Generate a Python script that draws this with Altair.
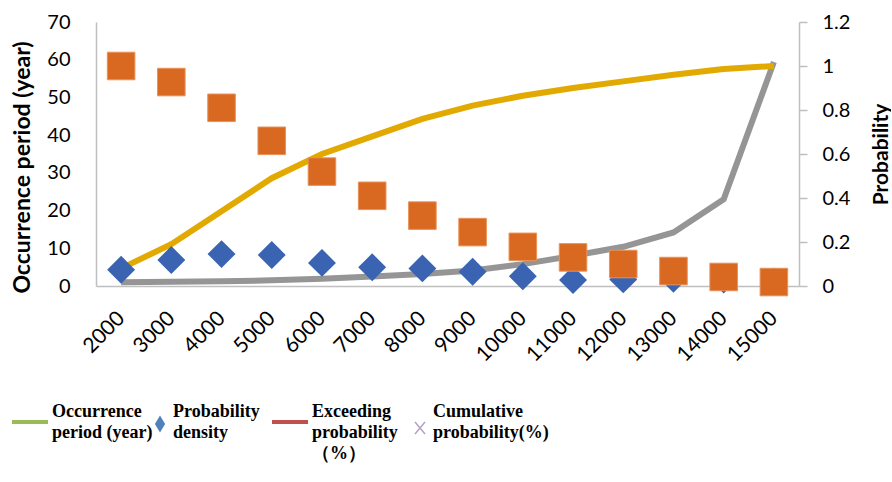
import altair as alt
import pandas as pd

# Category axis: rainfall / load levels
years = ["2000", "3000", "4000", "5000", "6000", "7000", "8000",
         "9000", "10000", "11000", "12000", "13000", "14000", "15000"]

# Left axis series (years)
occurrence_period = [1.0, 1.1, 1.25, 1.5, 1.9, 2.5, 3.2, 4.1, 5.8, 8.0,
                     10.4, 14.2, 23.0, 59.4]

# Right axis series (probability)
cumulative_prob = [0.08, 0.19, 0.34, 0.49, 0.60, 0.68, 0.76, 0.82, 0.865,
                   0.90, 0.93, 0.96, 0.986, 1.0]
exceeding_prob = [1.0, 0.927, 0.81, 0.66, 0.52, 0.41, 0.32, 0.245, 0.178,
                  0.13, 0.10, 0.068, 0.041, 0.018]
prob_density = [0.074, 0.118, 0.145, 0.141, 0.105, 0.085, 0.08, 0.065,
                0.044, 0.027, 0.03, 0.033, 0.029, 0.02]

# Legend entries
legend_labels = ["Occurrence\nperiod (year)", "Probability\ndensity",
                 "Exceeding\nprobability\n（%）", "Cumulative\nprobability(%)"]
legend_kinds = ["line", "diamond", "line", "cross"]
legend_colors = ["#9BBB59", "#4F81BD", "#C0504D", "#B3A2C7"]

df = pd.DataFrame({
    "year": years,
    "occ": occurrence_period,
    "cum": cumulative_prob,
    "exc": exceeding_prob,
    "dens": prob_density,
})

legend_df = pd.DataFrame({
    "slot": list(range(len(legend_labels))),
    "label": legend_labels,
    "kind": legend_kinds,
    "color": legend_colors,
})

AXIS_GREY = "#BFBFBF"
TICK_FONT = "Lato"

x_enc = alt.X(
    "year:N", sort=years, title=None,
    axis=alt.Axis(labelAngle=-45, labelAlign="right", labelBaseline="middle",
                  ticks=False, labelPadding=29, labelFontSize=21,
                  domainColor=AXIS_GREY, domainWidth=1.5),
)

left_axis = alt.Axis(
    orient="left", values=[0, 10, 20, 30, 40, 50, 60, 70], grid=False,
    ticks=False, labelPadding=26, domainColor=AXIS_GREY, domainWidth=1.5,
    title="Occurrence period (year)", titleX=-74, titleY=145,
    titleAngle=-90, titleAlign="center", titleBaseline="middle",
    titleFontSize=23,
)
right_axis = alt.Axis(
    orient="right", values=[0, 0.2, 0.4, 0.6, 0.8, 1, 1.2], format="~g",
    grid=False, ticks=True, tickSize=8, tickColor=AXIS_GREY, tickWidth=1.5,
    labelPadding=15, domainColor=AXIS_GREY, domainWidth=1.5,
    title="Probability", titleX=82, titleY=132, titleAngle=-90,
    titleAlign="center", titleBaseline="middle",
)
left_scale = alt.Scale(domain=[0, 70], nice=False, zero=True)
right_scale = alt.Scale(domain=[0, 1.2], nice=False, zero=True)

base = alt.Chart(df)

period_line = base.mark_line(color="#959595", strokeWidth=6).encode(
    x=x_enc, y=alt.Y("occ:Q", scale=left_scale, axis=left_axis),
)

cum_line = base.mark_line(color="#E2AA00", strokeWidth=6).encode(
    x=x_enc,
    y=alt.Y("cum:Q", scale=right_scale, axis=right_axis, title="Probability"),
)
density_pts = base.mark_point(shape="diamond", filled=True, size=780,
                              color="#3A63B2", opacity=1).encode(
    x=x_enc,
    y=alt.Y("dens:Q", scale=right_scale, axis=right_axis, title="Probability"),
)
exceed_pts = base.mark_point(shape="square", filled=True, size=760,
                             color="#D96821", opacity=1,
                             stroke="#E8925A", strokeWidth=1).encode(
    x=x_enc,
    y=alt.Y("exc:Q", scale=right_scale, axis=right_axis, title="Probability"),
)

main = alt.layer(
    period_line,
    alt.layer(cum_line, density_pts, exceed_pts),
).resolve_scale(y="independent").properties(width=703, height=264)

# Legend panel drawn below the plot; slots spaced evenly from the left edge
leg_x = alt.X("slot:Q", scale=alt.Scale(domain=[0, 3], range=[-66, 324]),
              axis=None)
leg_base = alt.Chart(legend_df)

leg_lines = leg_base.transform_filter(alt.datum.kind == "line").mark_point(
    shape="stroke", size=36 * 36, strokeWidth=4, filled=False, opacity=1,
).encode(x=leg_x, y=alt.value(36),
         color=alt.Color("color:N", scale=None))
leg_diamond = leg_base.transform_filter(alt.datum.kind == "diamond").mark_point(
    shape="M0,-1L0.6,0L0,1L-0.6,0Z", size=290, filled=True, opacity=1,
).encode(x=leg_x, y=alt.value(38),
         color=alt.Color("color:N", scale=None))
leg_cross = leg_base.transform_filter(alt.datum.kind == "cross").mark_point(
    shape="M-1,-1.2L1,1.2M-1,1.2L1,-1.2", size=100, filled=False,
    strokeWidth=1.5, opacity=1,
).encode(x=leg_x, y=alt.value(42),
         color=alt.Color("color:N", scale=None))

text_style = dict(align="left", baseline="top", lineBreak="\n",
                  font="Liberation Serif", fontWeight="bold", fontSize=18,
                  lineHeight=21, color="black")
leg_text_line = leg_base.transform_filter(alt.datum.kind == "line").mark_text(
    dx=22, **text_style).encode(x=leg_x, y=alt.value(17), text="label:N")
leg_text_mark = leg_base.transform_filter(alt.datum.kind != "line").mark_text(
    dx=13, **text_style).encode(x=leg_x, y=alt.value(17), text="label:N")

legend_panel = alt.layer(
    leg_lines, leg_diamond, leg_cross, leg_text_line, leg_text_mark,
).properties(width=703, height=80)

chart = alt.vconcat(main, legend_panel, spacing=100, bounds="flush").properties(
    padding={"left": 4, "top": 12, "right": 0, "bottom": 0},
    background="white",
).configure_view(stroke=None).configure_axis(
    labelFont=TICK_FONT, labelFontSize=20, labelColor="black",
    titleFont=TICK_FONT, titleFontSize=21, titleFontWeight="bold",
    titleColor="black",
)

chart.save("out.html", embed_options={"renderer": "svg", "actions": False})
